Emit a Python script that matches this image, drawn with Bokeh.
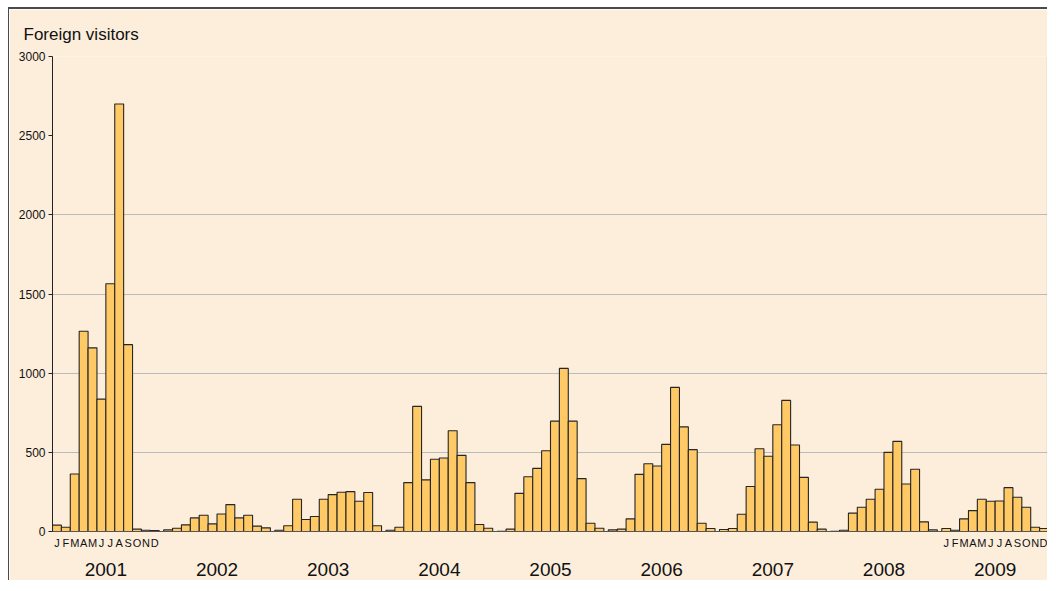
from bokeh.plotting import figure
from bokeh.models import ColumnDataSource, FixedTicker, LinearAxis, Span, Range1d
from bokeh.embed import file_html
from bokeh.resources import INLINE

years = ["2001", "2002", "2003", "2004", "2005", "2006", "2007", "2008", "2009"]
months = ["J", "F", "M", "A", "M", "J", "J", "A", "S", "O", "N", "D"]
v2001 = [40, 27, 363, 1265, 1160, 836, 1565, 2700, 1180, 15, 8, 6]
v2002 = [10, 21, 42, 86, 103, 48, 111, 170, 86, 103, 34, 23]
v2003 = [8, 36, 204, 76, 95, 204, 233, 248, 252, 191, 246, 36]
v2004 = [8, 27, 309, 790, 326, 456, 464, 636, 481, 309, 44, 21]
v2005 = [2, 15, 241, 346, 399, 510, 697, 1030, 697, 334, 52, 21]
v2006 = [10, 15, 80, 361, 428, 414, 550, 910, 661, 517, 52, 19]
v2007 = [13, 19, 109, 284, 523, 475, 674, 828, 546, 342, 59, 15]
v2008 = [1, 8, 116, 153, 204, 267, 500, 569, 300, 393, 61, 10]
v2009 = [19, 8, 80, 132, 204, 191, 193, 277, 216, 153, 27, 19]
series = [v2001, v2002, v2003, v2004, v2005, v2006, v2007, v2008, v2009]

BG = "#FDEEDC"
FONT = "Liberation Sans"
SLOT = 25  # 12 bars of width 2 plus a half-bar gap, in data units

xs, tops = [], []
for yi, vals in enumerate(series):
    for mi, v in enumerate(vals):
        xs.append(yi * SLOT + 2 * mi + 1)
        tops.append(v)
src = ColumnDataSource(dict(x=xs, top=tops))

p = figure(width=1039, height=573, x_range=Range1d(0, SLOT * 8 + 24),
           y_range=Range1d(0, 3000), output_backend="svg", toolbar_location=None,
           x_axis_type=None, background_fill_color=BG, border_fill_color=BG,
           min_border_left=43, min_border_right=0, min_border_top=46,
           min_border_bottom=51)
p.styles = {"margin-left": "8px", "margin-top": "7px",
            "border-top": "2px solid #4a4a4a", "border-left": "1px solid #4a4a4a"}
p.outline_line_color = None

p.title.text = "Foreign visitors"
p.title.text_font = FONT
p.title.text_font_size = "17px"
p.title.text_font_style = "normal"
p.title.text_color = "#111111"
p.title.align = "left"
p.title.offset = -29
p.title.standoff = 26

p.vbar(x="x", top="top", width=2, bottom=0, source=src,
       fill_color="#FFC966", line_color="#262626", line_width=1.1)

# y axis
yax = p.yaxis[0]
yax.ticker = FixedTicker(ticks=[0, 500, 1000, 1500, 2000, 2500, 3000])
yax.major_label_text_font = FONT
yax.major_label_text_font_size = "12px"
yax.major_label_text_color = "#111111"
yax.axis_line_color = "#222222"
yax.major_tick_line_color = "#222222"
yax.major_tick_in = 0
yax.major_tick_out = 4
yax.minor_tick_line_color = None
yax.major_label_standoff = 3

p.ygrid.ticker = FixedTicker(ticks=[500, 1000, 1500, 2000, 3000])
p.ygrid.grid_line_color = "#BBBBBB"
p.ygrid.grid_line_width = 1.2

# month axis (labels only under first and last year)
mticks, mover = [], {}
for yi in (0, 8):
    for mi, m in enumerate(months):
        t = yi * SLOT + 2 * mi + 1
        mticks.append(t)
        mover[t] = m
max_ = LinearAxis(ticker=FixedTicker(ticks=mticks), major_label_overrides=mover,
                  axis_line_color="#555555", major_tick_line_color=None,
                  minor_tick_line_color=None, major_tick_out=0, major_tick_in=0,
                  major_label_text_font=FONT, major_label_text_font_size="11px",
                  major_label_text_color="#111111", major_label_standoff=5)
p.add_layout(max_, "below")

yticks = [yi * SLOT + 12 for yi in range(len(years))]
yover = {t: y for t, y in zip(yticks, years)}
yearax = LinearAxis(ticker=FixedTicker(ticks=yticks), major_label_overrides=yover,
                    axis_line_color=None, major_tick_line_color=None,
                    minor_tick_line_color=None, major_tick_out=0, major_tick_in=0,
                    major_label_text_font=FONT, major_label_text_font_size="19px",
                    major_label_text_color="#111111", major_label_standoff=11)
p.add_layout(yearax, "below")

p.add_layout(Span(location=SLOT * 8 + 24 - 0.2, dimension="height",
                  line_color="#222222", line_width=1.3))

open("out.html", "w").write(file_html(p, INLINE))
